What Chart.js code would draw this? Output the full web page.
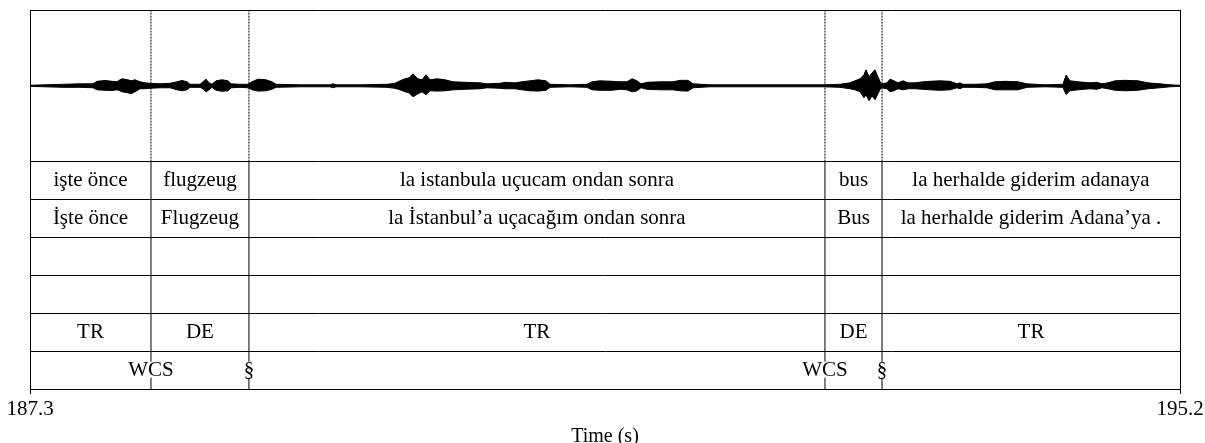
<!DOCTYPE html>
<html><head><meta charset="utf-8">
<script src="https://cdn.jsdelivr.net/npm/chart.js@4.4.1/dist/chart.umd.min.js"></script>
<style>html,body{margin:0;padding:0;background:#fff;}#wrap{width:1205px;height:443px;}</style>
</head><body><div id="wrap"><canvas id="c" width="1205" height="443"></canvas></div>
<script>
// ---- data ----
const timeMin = 187.3;
const timeMax = 195.2;
const xTickValues = [187.3, 195.2];
const axisTitle = "Time (s)";
const boundaries = [188.131, 188.804, 192.761, 193.153];
const tier1 = ["işte önce", "flugzeug", "la istanbula uçucam ondan sonra", "bus", "la herhalde giderim adanaya"];
const tier2 = ["İşte önce", "Flugzeug", "la İstanbul’a uçacağım ondan sonra", "Bus", "la herhalde giderim Adana’ya ."];
const tier3 = ["", "", "", "", ""];
const tier4 = ["", "", "", "", ""];
const tier5 = ["TR", "DE", "TR", "DE", "TR"];
const pointTimes = [188.131, 188.804, 192.761, 193.153];
const pointLabels = ["WCS", "§", "WCS", "§"];

// waveform envelope (relative amplitude)
const waveTimes = [187.300,187.403,187.527,187.643,187.733,187.760,187.815,187.863,187.898,187.918,187.932,187.973,187.994,188.021,188.056,188.090,188.124,188.193,188.262,188.310,188.344,188.379,188.399,188.468,188.488,188.509,188.530,188.550,188.578,188.619,188.660,188.681,188.743,188.798,188.825,188.866,188.921,188.962,188.990,189.155,189.361,189.382,189.402,189.567,189.753,189.807,189.842,189.876,189.904,189.931,189.965,189.993,190.020,190.048,190.096,190.151,190.206,190.288,190.391,190.439,190.529,190.563,190.632,190.680,190.735,190.790,190.845,190.872,191.010,191.126,191.161,191.216,191.298,191.353,191.401,191.436,191.470,191.497,191.539,191.628,191.717,191.765,191.820,191.855,191.971,192.246,192.521,192.748,192.864,192.933,192.967,193.002,193.029,193.043,193.064,193.084,193.105,193.125,193.146,193.187,193.208,193.235,193.263,193.297,193.332,193.380,193.435,193.483,193.551,193.620,193.668,193.689,193.709,193.792,193.874,193.929,193.998,194.087,194.149,194.273,194.396,194.417,194.444,194.499,194.582,194.630,194.664,194.705,194.754,194.822,194.912,194.980,195.063,195.131,195.200];
const waveUpper = [.007,.013,.020,.026,.026,.059,.070,.059,.053,.079,.092,.079,.066,.079,.053,.039,.033,.026,.033,.053,.070,.053,.020,.020,.053,.088,.039,.020,.066,.079,.066,.026,.020,.020,.053,.088,.079,.053,.020,.013,.013,.026,.013,.013,.020,.033,.066,.092,.105,.158,.092,.079,.145,.079,.092,.079,.053,.046,.039,.026,.033,.046,.039,.053,.066,.079,.066,.020,.013,.020,.053,.066,.059,.053,.053,.092,.066,.026,.046,.053,.053,.072,.072,.026,.013,.013,.013,.013,.020,.039,.066,.092,.145,.211,.118,.171,.211,.118,.026,.039,.088,.066,.039,.066,.039,.039,.053,.059,.066,.059,.026,.039,.020,.020,.026,.053,.059,.053,.026,.013,.020,.141,.066,.053,.039,.046,.026,.039,.066,.072,.066,.039,.026,.013,.007];
const waveLower = [-.007,-.013,-.020,-.020,-.026,-.053,-.059,-.062,-.053,-.066,-.079,-.092,-.105,-.079,-.039,-.039,-.033,-.026,-.026,-.053,-.066,-.053,-.020,-.020,-.039,-.079,-.053,-.020,-.059,-.072,-.066,-.026,-.020,-.026,-.053,-.070,-.066,-.046,-.020,-.013,-.013,-.026,-.013,-.013,-.020,-.033,-.053,-.079,-.092,-.145,-.105,-.079,-.118,-.066,-.070,-.066,-.053,-.046,-.039,-.026,-.033,-.039,-.039,-.053,-.066,-.070,-.059,-.020,-.013,-.020,-.053,-.059,-.059,-.046,-.053,-.079,-.066,-.026,-.046,-.053,-.053,-.066,-.070,-.026,-.013,-.013,-.013,-.013,-.020,-.039,-.053,-.079,-.158,-.118,-.197,-.132,-.184,-.105,-.026,-.039,-.079,-.066,-.039,-.053,-.039,-.039,-.046,-.053,-.059,-.053,-.026,-.039,-.020,-.020,-.026,-.053,-.053,-.053,-.020,-.013,-.020,-.114,-.066,-.053,-.039,-.046,-.026,-.039,-.059,-.066,-.059,-.039,-.026,-.013,-.007];

// ---- layout in y units: tiers occupy 0..6, waveform 6..10 ----
const intervalTiers = [tier1, tier2, tier3, tier4, tier5];
const WAVE_CENTER = 8, WAVE_HALF = 2;
const FONT = "'Liberation Serif', 'Times New Roman', serif";

const datasets = [];
datasets.push({data: waveTimes.map((t,i)=>({x:t, y:WAVE_CENTER + WAVE_HALF*waveUpper[i]})),
  borderColor:'#000', backgroundColor:'#000', borderWidth:1, pointRadius:0, fill:'+1', tension:0});
datasets.push({data: waveTimes.map((t,i)=>({x:t, y:WAVE_CENTER + WAVE_HALF*waveLower[i]})),
  borderColor:'#000', borderWidth:1, pointRadius:0, fill:false, tension:0});
boundaries.forEach(b=>{
  datasets.push({data:[{x:b,y:1},{x:b,y:6}], borderColor:'#000', borderWidth:1, pointRadius:0, fill:false});
  datasets.push({data:[{x:b,y:6},{x:b,y:10}], borderColor:'#000', borderWidth:1, borderDash:[2,1], pointRadius:0, fill:false});
});
pointTimes.forEach(p=>{
  datasets.push({data:[{x:p,y:0},{x:p,y:0.3}], borderColor:'#000', borderWidth:1, pointRadius:0, fill:false});
  datasets.push({data:[{x:p,y:0.72},{x:p,y:1}], borderColor:'#000', borderWidth:1, pointRadius:0, fill:false});
});

const tierText = {
  id:'tierText',
  afterDatasetsDraw(chart){
    const {ctx, scales:{x,y}} = chart;
    ctx.save();
    ctx.fillStyle = '#000';
    ctx.font = "21px " + FONT;
    ctx.textAlign = 'center';
    ctx.textBaseline = 'middle';
    const edges = [timeMin, ...boundaries, timeMax];
    intervalTiers.forEach((tier, i)=>{
      const yc = y.getPixelForValue(5.5 - i);
      tier.forEach((label, j)=>{
        if(!label) return;
        const xc = (x.getPixelForValue(edges[j]) + x.getPixelForValue(edges[j+1]))/2;
        ctx.fillText(label, xc, yc);
      });
    });
    const yp = y.getPixelForValue(0.5);
    pointTimes.forEach((p,k)=>{ ctx.fillText(pointLabels[k], x.getPixelForValue(p), yp); });
    ctx.restore();
  }
};

new Chart(document.getElementById('c'), {
  type:'line',
  data:{datasets},
  options:{
    responsive:false, animation:false, devicePixelRatio:1,
    layout:{padding:{left:30, right:25, top:10, bottom:0}},
    plugins:{legend:{display:false}, tooltip:{enabled:false}},
    scales:{
      x:{type:'linear', min:timeMin, max:timeMax,
        afterBuildTicks: s => { s.ticks = xTickValues.map(v=>({value:v})); },
        ticks:{autoSkip:false, maxRotation:0, padding:1, color:'#000',
          font:{family:FONT, size:21, lineHeight:1.4}, callback:v=>Number(v).toFixed(1)},
        grid:{color:'#000', lineWidth:1, tickLength:5},
        border:{color:'#000', width:1},
        title:{display:true, text:axisTitle, color:'#000', font:{family:FONT, size:20, lineHeight:1}, padding:{top:1.6, bottom:-4}}
      },
      y:{type:'linear', min:0, max:10,
        afterBuildTicks: s => { s.ticks = [0,1,2,3,4,5,6,7,8,9,10].map(v=>({value:v})); },
        ticks:{display:false},
        grid:{drawTicks:false, lineWidth:1, color: c => { const v = c.tick ? c.tick.value : 0; return (v<=6 || v===10) ? '#000' : 'rgba(0,0,0,0)'; }},
        border:{color:'#000', width:1}
      }
    }
  },
  plugins:[tierText]
});
</script>
</body></html>
